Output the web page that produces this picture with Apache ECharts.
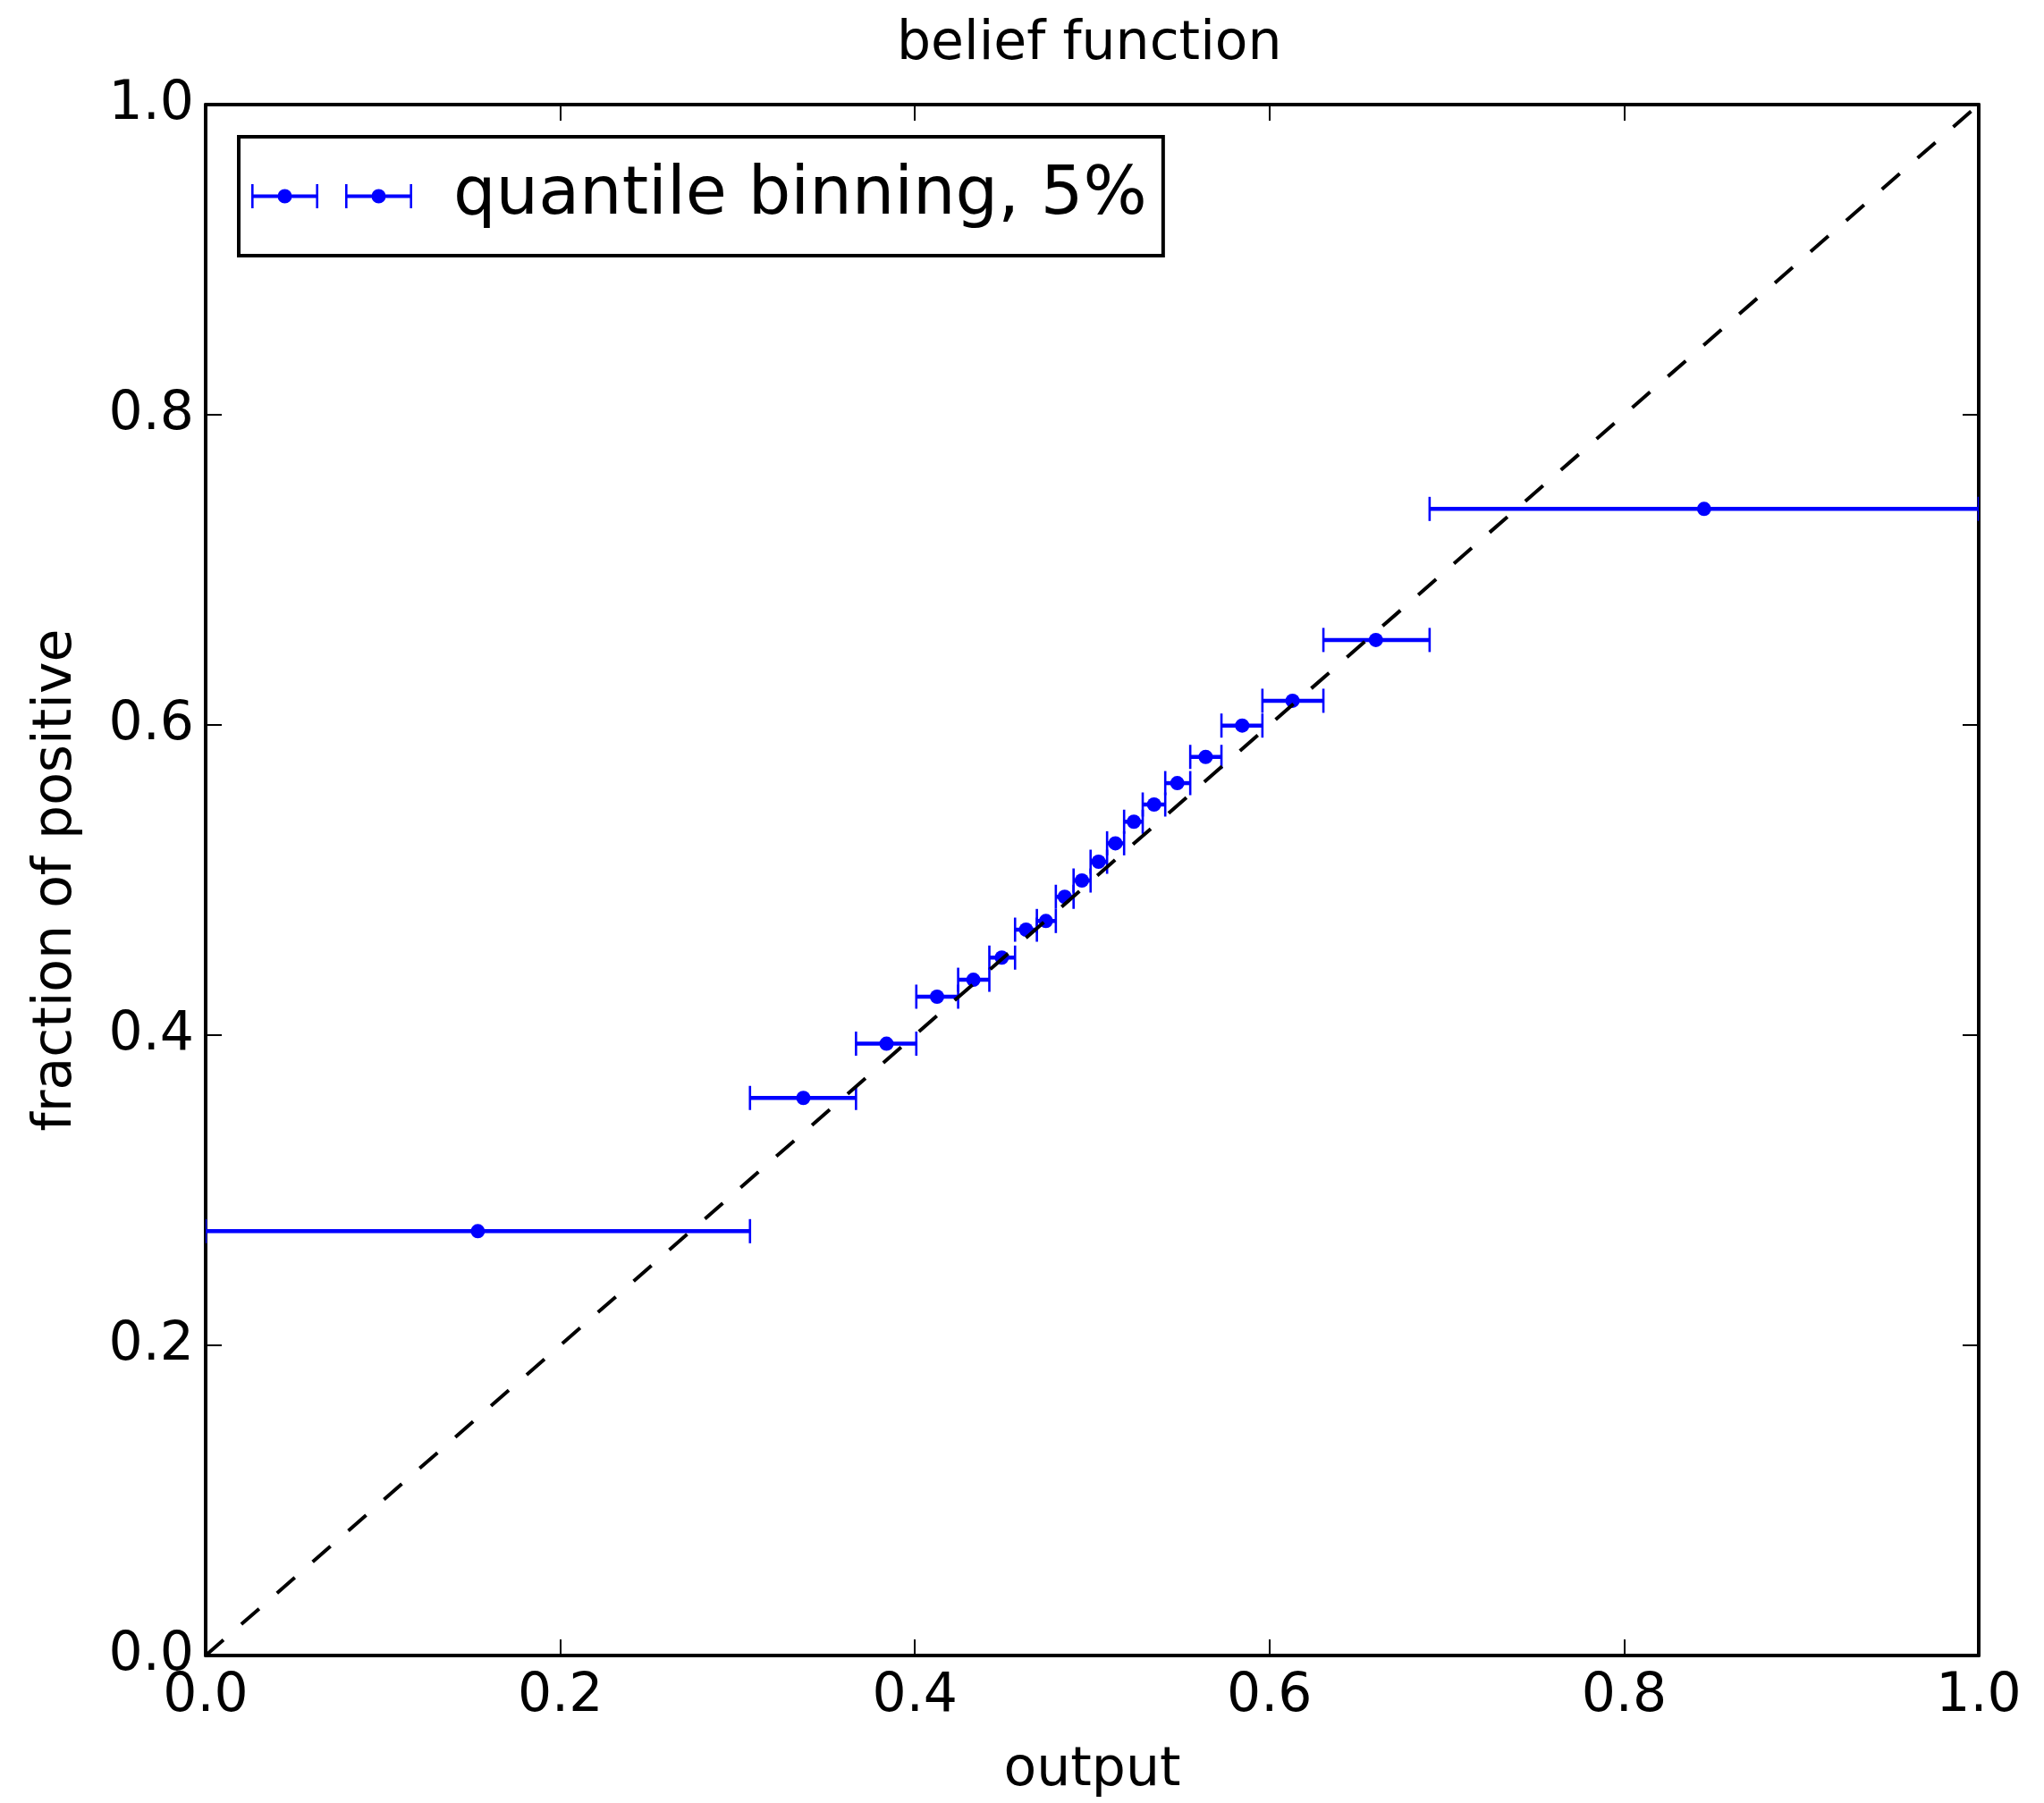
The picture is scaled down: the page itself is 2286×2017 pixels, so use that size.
<!DOCTYPE html>
<html>
<head>
<meta charset="utf-8">
<script src="https://cdn.jsdelivr.net/npm/echarts@6/dist/echarts.min.js"></script>
<style>
html,body{margin:0;padding:0;background:#fff;}
#chart{width:2286px;height:2017px;}
</style>
</head>
<body>
<div id="chart"></div>
<script>
// ---- data ----
const titleText = 'belief function';
const xAxisName = 'output';
const yAxisName = 'fraction of positive';
const seriesName = 'quantile binning, 5%';
const tickValues = [0.0, 0.2, 0.4, 0.6, 0.8, 1.0];

// bin centres (x) and fraction of positives (y)
const binX = [0.1535, 0.3371, 0.3840, 0.4125, 0.4330, 0.4490, 0.4627, 0.4739, 0.4845, 0.4942,
              0.5036, 0.5131, 0.5235, 0.5349, 0.5480, 0.5640, 0.5846, 0.6130, 0.6600, 0.8451];
const binY = [0.2736, 0.3595, 0.3945, 0.4248, 0.4357, 0.4500, 0.4680, 0.4736, 0.4892, 0.4997,
              0.5118, 0.5237, 0.5376, 0.5487, 0.5625, 0.5794, 0.5996, 0.6156, 0.6548, 0.7393];
// horizontal error bar extent (bin edges)
const binLow  = [0.0000, 0.3070, 0.3668, 0.4008, 0.4244, 0.4420, 0.4565, 0.4688, 0.4795, 0.4895,
                 0.4991, 0.5084, 0.5180, 0.5285, 0.5412, 0.5553, 0.5729, 0.5960, 0.6304, 0.6903];
const binHigh = [0.3070, 0.3668, 0.4008, 0.4244, 0.4420, 0.4565, 0.4688, 0.4795, 0.4895, 0.4991,
                 0.5084, 0.5180, 0.5285, 0.5412, 0.5553, 0.5729, 0.5960, 0.6304, 0.6903, 1.0000];
// reference diagonal
const diagX = [0, 1];
const diagY = [0, 1];

// ---- build chart ----
const FONT = 'DejaVu Sans';
const BLUE = '#0000ff';
const chart = echarts.init(document.getElementById('chart'), null, {renderer: 'canvas'});

const errData = binX.map((x, i) => [x, binY[i], binLow[i], binHigh[i]]);
const dotData = binX.map((x, i) => [x, binY[i]]);
const diagData = diagX.map((x, i) => [x, diagY[i]]);

function glyph(o) {
  return 'M' + o + ',11.5 L' + (o + 75) + ',11.5 L' + (o + 75) + ',15.5 L' + o + ',15.5 Z ' +
         'M' + o + ',0 L' + (o + 2.6) + ',0 L' + (o + 2.6) + ',27 L' + o + ',27 Z ' +
         'M' + (o + 72.4) + ',0 L' + (o + 75) + ',0 L' + (o + 75) + ',27 L' + (o + 72.4) + ',27 Z ' +
         'M' + (o + 29.5) + ',13.5 A8,8 0 1 1 ' + (o + 45.5) + ',13.5 A8,8 0 1 1 ' + (o + 29.5) + ',13.5 Z ';
}
const legendIcon = 'path://' + glyph(0) + glyph(105);

const axisCommon = {
  type: 'value', min: 0, max: 1, interval: 0.2,
  splitLine: {show: false},
  axisLine: {show: true, onZero: false, lineStyle: {color: '#000', width: 4}},
  axisTick: {show: true, inside: true, length: 18, lineStyle: {color: '#000', width: 2}}
};
const labelStyle = {
  color: '#000', fontFamily: FONT, fontSize: 60, lineHeight: 60,
  showMinLabel: true, showMaxLabel: true, hideOverlap: false,
  formatter: v => tickValues.some(t => Math.abs(t - v) < 1e-9) ? v.toFixed(1) : ''
};

chart.setOption({
  animation: false,
  backgroundColor: '#fff',
  title: {
    text: titleText, left: 1003, top: 20, padding: 0,
    textStyle: {color: '#000', fontFamily: FONT, fontSize: 60, lineHeight: 60, fontWeight: 'normal'}
  },
  legend: {
    left: 267, top: 153, orient: 'horizontal',
    padding: [29, 18, 29, 14],
    borderColor: '#000', borderWidth: 4, backgroundColor: '#fff',
    itemWidth: 180, itemHeight: 27, symbolKeepAspect: true,
    selectedMode: false,
    itemStyle: {color: BLUE},
    data: [{name: seriesName, icon: legendIcon, itemStyle: {color: BLUE}}],
    textStyle: {color: '#000', fontFamily: FONT, fontSize: 75, lineHeight: 75, padding: [0, 0, 0, 41]}
  },
  grid: {left: 230, right: 73, top: 117, bottom: 165, containLabel: false},
  xAxis: [
    Object.assign({}, axisCommon, {
      position: 'bottom',
      name: xAxisName, nameLocation: 'middle', nameGap: 99,
      nameTextStyle: {color: '#000', fontFamily: FONT, fontSize: 60, lineHeight: 60},
      axisLabel: Object.assign({margin: 16}, labelStyle)
    }),
    Object.assign({}, axisCommon, {position: 'top', axisLabel: {show: false}})
  ],
  yAxis: [
    Object.assign({}, axisCommon, {
      position: 'left',
      name: yAxisName, nameLocation: 'middle', nameGap: 137, nameRotate: 90,
      nameTextStyle: {color: '#000', fontFamily: FONT, fontSize: 60, lineHeight: 60},
      axisLabel: Object.assign({margin: 13}, labelStyle)
    }),
    Object.assign({}, axisCommon, {position: 'right', axisLabel: {show: false}})
  ],
  series: [
    {
      type: 'custom',
      name: seriesName,
      xAxisIndex: 0, yAxisIndex: 0,
      clip: true,
      z: 2,
      itemStyle: {color: BLUE},
      encode: {x: [0, 2, 3], y: 1},
      data: errData,
      renderItem: function (params, api) {
        const y = api.value(1);
        const p1 = api.coord([api.value(2), y]);
        const p2 = api.coord([api.value(3), y]);
        const capH = 13.5;
        return {
          type: 'group',
          children: [
            {type: 'line', shape: {x1: p1[0], y1: p1[1], x2: p2[0], y2: p2[1]},
             style: {stroke: BLUE, lineWidth: 4.5}},
            {type: 'line', shape: {x1: p1[0], y1: p1[1] - capH, x2: p1[0], y2: p1[1] + capH},
             style: {stroke: BLUE, lineWidth: 2.6}},
            {type: 'line', shape: {x1: p2[0], y1: p2[1] - capH, x2: p2[0], y2: p2[1] + capH},
             style: {stroke: BLUE, lineWidth: 2.6}}
          ]
        };
      }
    },
    {
      type: 'scatter',
      name: seriesName,
      xAxisIndex: 0, yAxisIndex: 0,
      z: 3,
      symbol: 'circle', symbolSize: 16,
      itemStyle: {color: BLUE, opacity: 1},
      data: dotData
    },
    {
      type: 'line',
      name: 'diagonal',
      xAxisIndex: 0, yAxisIndex: 0,
      z: 4,
      showSymbol: false, symbol: 'none',
      lineStyle: {color: '#000', width: 4, type: [26.5, 26.5], dashOffset: 0},
      data: diagData
    }
  ]
});
</script>
</body>
</html>
